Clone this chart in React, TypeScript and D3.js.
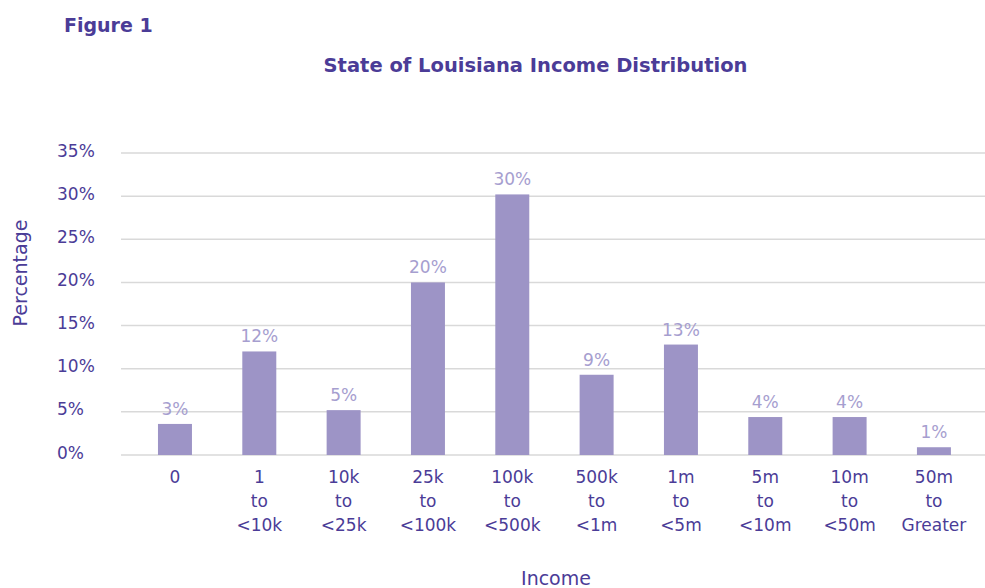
import React from 'react'
import * as d3 from 'd3'

const categories = ['0', '1 to <10k', '10k to <25k', '25k to <100k', '100k to <500k', '500k to <1m', '1m to <5m', '5m to <10m', '10m to <50m', '50m to Greater']
const shares = [3.6, 12.0, 5.2, 20.0, 30.2, 9.3, 12.8, 4.4, 4.4, 0.9]
const shareLabels = ['3%', '12%', '5%', '20%', '30%', '9%', '13%', '4%', '4%', '1%']
const yTicks = [0, 5, 10, 15, 20, 25, 30, 35]

const width = 985
const height = 588
const font = "'DejaVu Sans', sans-serif"
const dark = '#4b3c97'
const light = '#a69ecf'
const barColor = '#9d94c6'

function App() {
  const x = d3.scaleBand()
    .domain(categories)
    .range([132.8, 976.1])
    .paddingInner(0.597)
    .paddingOuter(0.2985)

  const y = d3.scaleLinear()
    .domain([0, 35])
    .range([455, 153])

  // split "a to b" into three stacked lines
  const lines = (c) => c.includes(' to ') ? [c.split(' to ')[0], 'to', c.split(' to ')[1]] : [c]

  return (
    <svg width={width} height={height} style={{ position: 'absolute', left: 0, top: 0, background: '#fff' }}
      fontFamily={font}>
      <text x={64} y={32} fontSize={19} fontWeight="bold" fill={dark}>Figure 1</text>
      <text x={535.5} y={72} fontSize={19.5} fontWeight="bold" fill={dark} textAnchor="middle">
        State of Louisiana Income Distribution
      </text>

      {yTicks.map(t => (
        <g key={t}>
          <line x1={121} x2={width} y1={y(t)} y2={y(t)} stroke="#d9d9d9" strokeWidth={1.5} />
          <text x={57} y={y(t) + 3.5} fontSize={17} fill={dark}>{t}%</text>
        </g>
      ))}

      {categories.map((c, i) => (
        <g key={c}>
          <rect x={x(c)} y={y(shares[i])} width={x.bandwidth()} height={y(0) - y(shares[i])} fill={barColor} />
          <text x={x(c) + x.bandwidth() / 2} y={y(shares[i]) - 9} fontSize={17} fill={light} textAnchor="middle">
            {shareLabels[i]}
          </text>
          {lines(c).map((l, j) => (
            <text key={j} x={x(c) + x.bandwidth() / 2} y={483 + j * 24} fontSize={17} fill={dark} textAnchor="middle">{l}</text>
          ))}
        </g>
      ))}

      <text transform="translate(27,273) rotate(-90)" fontSize={19} fill={dark} textAnchor="middle">Percentage</text>
      <text x={556} y={585} fontSize={19} fill={dark} textAnchor="middle">Income</text>
    </svg>
  )
}

export default App
